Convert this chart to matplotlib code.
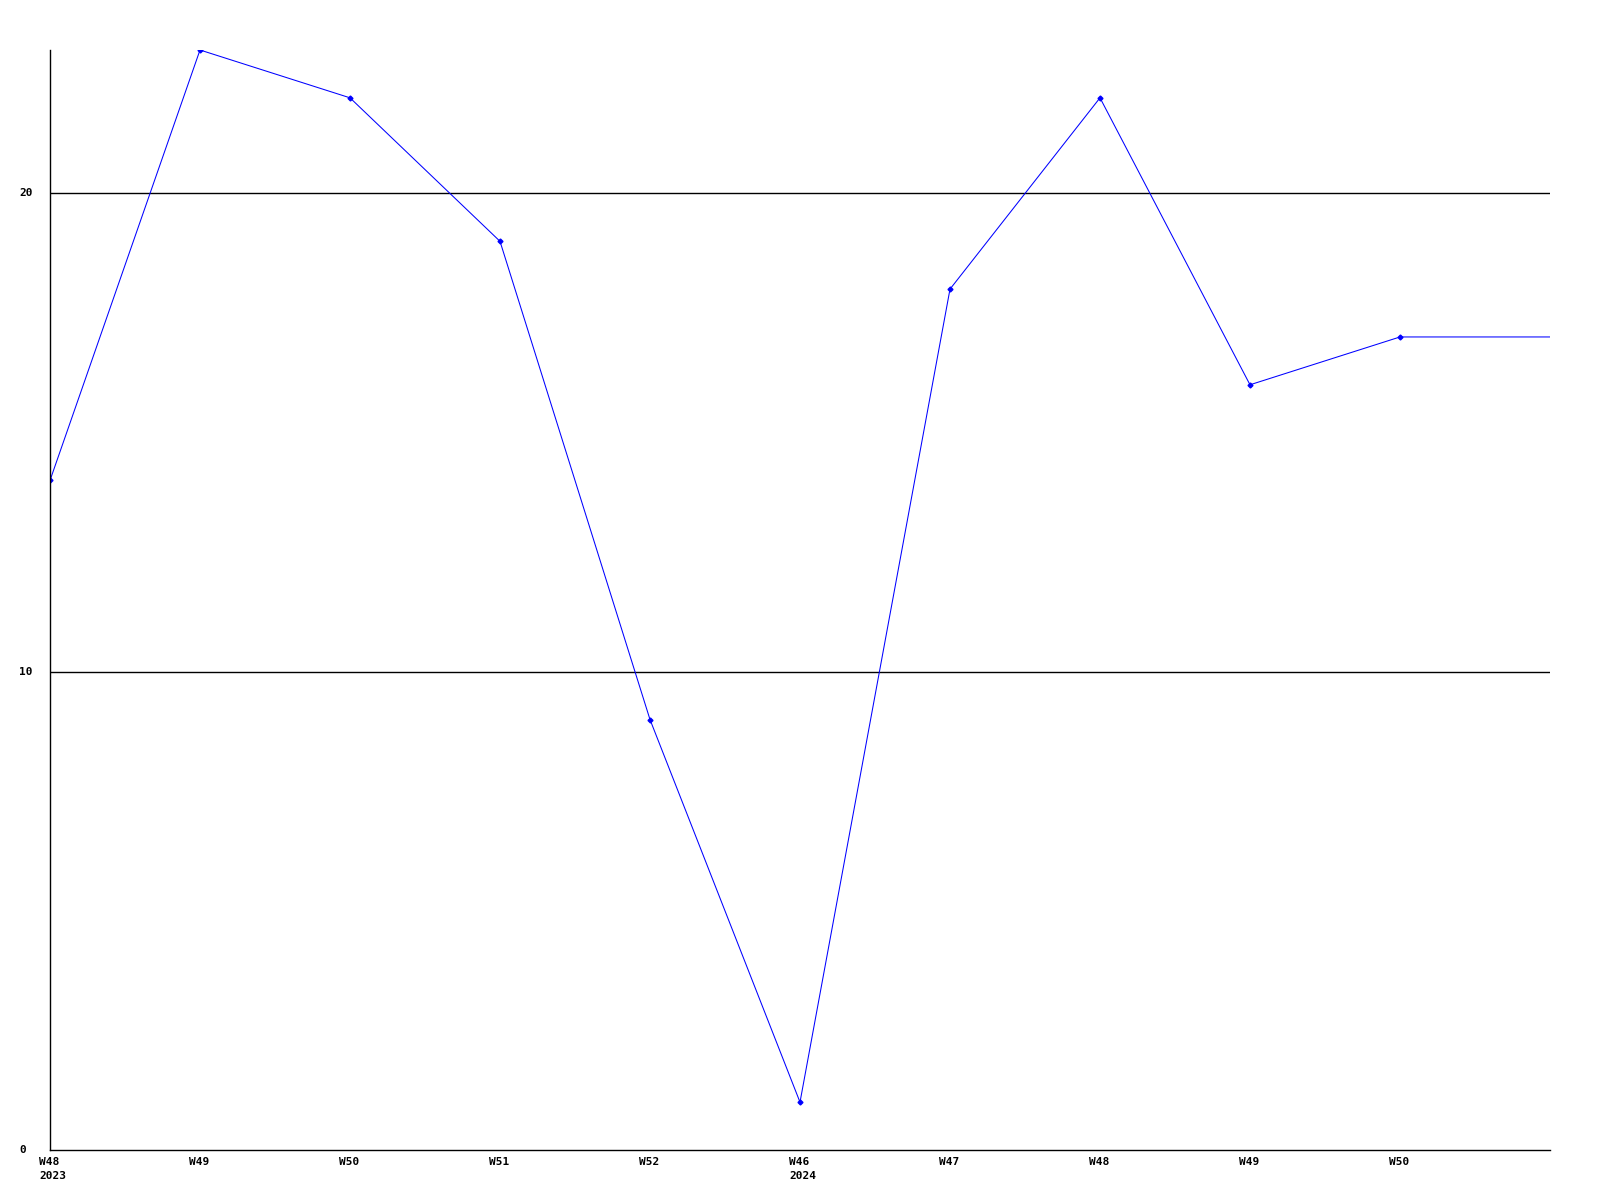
import matplotlib
matplotlib.use("Agg")
import matplotlib.pyplot as plt
import matplotlib.transforms as mtransforms

weeks = ["W48", "W49", "W50", "W51", "W52", "W46", "W47", "W48", "W49", "W50"]
years = ["2023", "", "", "", "", "2024", "", "", "", ""]
values = [14, 23, 22, 19, 9, 1, 18, 22, 16, 17]
yticks = [0, 10, 20]

fig = plt.figure(figsize=(16, 12), dpi=100)
ax = fig.add_axes([50/1600, 50/1200, 1500/1600, 1100/1200])

n = len(values)
xs = list(range(n)) + [n]
ys = values + [values[-1]]
ax.plot(xs, ys, color="#0000ff", lw=0.75, marker="D", markersize=2.5,
        markevery=list(range(n)), solid_joinstyle="miter")

for v in yticks[1:]:
    ax.axhline(v, color="black", lw=1.0, zorder=0)

ax.set_xlim(0, n)
ax.set_ylim(0, 23)
for s in ["top", "right"]:
    ax.spines[s].set_visible(False)
for s in ["left", "bottom"]:
    ax.spines[s].set_linewidth(1.0)
    ax.spines[s].set_color("black")

font = dict(family="DejaVu Sans Mono", weight="bold", size=8)
labels = [w + ("\n" + y if y else "") for w, y in zip(weeks, years)]
ax.set_xticks(range(n))
ax.set_xticklabels(labels, ha="left", va="top", linespacing=1.5, **font)
ax.tick_params(axis="x", length=0, pad=5)
off = mtransforms.ScaledTranslation(-11/100, 0, fig.dpi_scale_trans)
for lab in ax.get_xticklabels():
    lab.set_transform(lab.get_transform() + off)

ax.set_yticks(yticks)
ax.set_yticklabels([str(v) for v in yticks], ha="left", va="center", **font)
ax.tick_params(axis="y", length=0, pad=22)

fig.savefig("out.png", dpi=100, facecolor="white")
